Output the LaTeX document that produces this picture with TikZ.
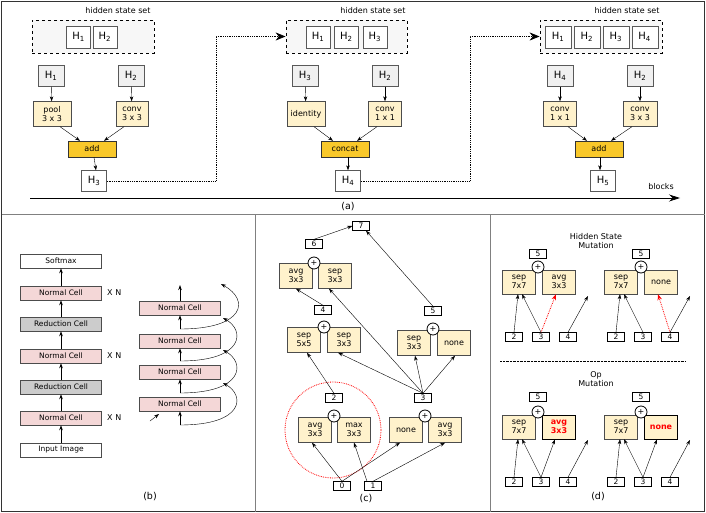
\documentclass[tikz,border=0pt]{standalone}
\usepackage{fontspec}
\setmainfont{DejaVu Sans}
\usetikzlibrary{arrows.meta,positioning}
\definecolor{opfill}{HTML}{FFF2CC}
\definecolor{addfill}{HTML}{F9C82A}
\definecolor{cellpink}{HTML}{F4D7D7}
\definecolor{redcell}{HTML}{CCCCCC}
\definecolor{hgrayfill}{HTML}{F0F0F0}
\tikzset{
  hset/.style={draw=gray!70!black,fill=white,minimum width=24pt,minimum height=22pt,inner sep=0pt,font=\fontsize{10}{11}\selectfont},
  hin/.style={hset,fill=hgrayfill,minimum width=26pt,minimum height=21pt},
  hout/.style={hset,minimum width=25pt,minimum height=21pt},
  opbox/.style={draw=gray!60!black,fill=opfill,minimum width=34pt,minimum height=25pt,inner sep=1pt,align=center,font=\fontsize{8}{9.5}\selectfont},
  combox/.style={draw=black!80,fill=addfill,minimum width=48pt,minimum height=16pt,inner sep=0pt,font=\fontsize{8}{9}\selectfont},
  setbox/.style={draw,dashed,thick,fill=gray!6,minimum height=33pt},
  cellbox/.style={draw=gray!60!black,fill=cellpink,minimum width=81pt,minimum height=14pt,inner sep=0pt,font=\fontsize{7.5}{8}\selectfont},
  redbox/.style={cellbox,fill=redcell},
  plainbox/.style={cellbox,fill=white},
  numbox/.style={draw,fill=white,minimum width=17pt,minimum height=9pt,inner sep=0pt,font=\fontsize{7.5}{7.5}\selectfont},
  plusc/.style={draw,thick,circle,fill=white,minimum size=12pt,inner sep=0pt,font=\fontsize{8}{8}\selectfont},
  lbl/.style={font=\fontsize{8}{9.5}\selectfont,align=center},
  arr/.style={-{Stealth[length=5pt,width=3.5pt]}},
  redarr/.style={-{Stealth[length=6pt,width=4.5pt]},red,densely dotted,thick}
}
\begin{document}
\begin{tikzpicture}[x=1pt,y=-1pt]
  \useasboundingbox (0,0) rectangle (706,513);
  \draw[thick,black!80] (1.5,1.5) rectangle (704.5,511.5);
  \draw[gray] (1.5,214) -- (704.5,214);
  \draw[gray] (255,214) -- (255,511.5);
  \draw[gray] (490,214) -- (490,511.5);

  % (a)
  \node[lbl] at (118,11) {hidden state set};
  \node[setbox,minimum width=122pt] (set1) at (93,36.5) {};
  \node[hset] (s1a) at (78.5,37) {H\textsubscript{1}};
  \node[hset,right=2pt of s1a] (s1b) {H\textsubscript{2}};
  \node[hin] (h1a) at (51,76) {H\textsubscript{1}};
  \node[hin] (h2a) at (131,76) {H\textsubscript{2}};
  \node[opbox,minimum width=38pt] (pool) at (52,114) {pool\\3 x 3};
  \node[opbox,minimum width=32pt] (conva) at (132,114) {conv\\3 x 3};
  \node[combox] (adda) at (92,149) {add};
  \node[hout] (h3w) at (94,181) {H\textsubscript{3}};
  \draw[arr] (h1a) -- (pool);
  \draw[arr] (h2a) -- (conva);
  \draw[arr] ([xshift=8pt]pool.south) -- ([xshift=-12pt]adda.north);
  \draw[arr] ([xshift=-8pt]conva.south) -- ([xshift=12pt]adda.north);
  \draw[arr] ([xshift=2pt]adda.south) -- ([xshift=2pt]h3w.north);

  \node[lbl] at (373,11) {hidden state set};
  \node[setbox,minimum width=121pt] (set2) at (346.5,36.5) {};
  \node[hset] (s2a) at (318,37) {H\textsubscript{1}};
  \node[hset,right=4pt of s2a] (s2b) {H\textsubscript{2}};
  \node[hset,right=4pt of s2b] (s2c) {H\textsubscript{3}};
  \node[hin] (h3a) at (305,76) {H\textsubscript{3}};
  \node[hin] (h2b) at (385,76) {H\textsubscript{2}};
  \node[opbox,minimum width=38pt] (ident) at (306,114) {identity};
  \node[opbox,minimum width=33pt] (convb) at (385,114) {conv\\1 x 1};
  \node[combox] (concat) at (345,149) {concat};
  \node[hout] (h4w) at (348,181) {H\textsubscript{4}};
  \draw[arr] (h3a) -- (ident);
  \draw[arr] (h2b) -- (convb);
  \draw[arr] ([xshift=8pt]ident.south) -- ([xshift=-12pt]concat.north);
  \draw[arr] ([xshift=-8pt]convb.south) -- ([xshift=12pt]concat.north);
  \draw[arr] ([xshift=3pt]concat.south) -- (h4w.north);

  \node[lbl] at (627,11) {hidden state set};
  \node[setbox,minimum width=122pt] (set3) at (601,36.5) {};
  \node[hset,minimum width=26pt] (s3a) at (558,37) {H\textsubscript{1}};
  \node[hset,minimum width=26pt,right=2.5pt of s3a] (s3b) {H\textsubscript{2}};
  \node[hset,minimum width=26pt,right=2.5pt of s3b] (s3c) {H\textsubscript{3}};
  \node[hset,minimum width=26pt,right=2.5pt of s3c] (s3d) {H\textsubscript{4}};
  \node[hin] (h4a) at (560,76) {H\textsubscript{4}};
  \node[hin] (h2c) at (640,76) {H\textsubscript{2}};
  \node[opbox,minimum width=33pt] (convc) at (560,114) {conv\\1 x 1};
  \node[opbox,minimum width=34pt] (convd) at (640,114) {conv\\3 x 3};
  \node[combox] (addb) at (599,149) {add};
  \node[hout] (h5w) at (603,181) {H\textsubscript{5}};
  \draw[arr] (h4a) -- (convc);
  \draw[arr] (h2c) -- (convd);
  \draw[arr] ([xshift=8pt]convc.south) -- ([xshift=-12pt]addb.north);
  \draw[arr] ([xshift=-8pt]convd.south) -- ([xshift=12pt]addb.north);
  \draw[arr] ([xshift=1pt]addb.south) -- ([xshift=-3pt]h5w.north);

  \coordinate (turn1) at (216,36.5);
  \coordinate (turn2) at (470,36.5);
  \draw[densely dotted,thick,-{Stealth[length=10pt,width=8pt]}] (h3w.east) -| (turn1) -- (set2.west);
  \draw[densely dotted,thick,-{Stealth[length=10pt,width=8pt]}] (h4w.east) -| (turn2) -- (set3.west);

  \coordinate (axs) at (30,198);
  \coordinate (axe) at (680,198);
  \draw[thick,-{Stealth[length=11pt,width=7pt]}] (axs) -- (axe);
  \node[lbl] at (661,187) {blocks};
  \node[font=\fontsize{9.5}{10}\selectfont] at (348,207) {(a)};

  % (b)
  \node[plainbox] (soft) at (61,261) {Softmax};
  \node[cellbox] (nc3) at (61,293) {Normal Cell};
  \node[redbox] (rc2) at (61,324) {Reduction Cell};
  \node[cellbox] (nc2) at (61,356) {Normal Cell};
  \node[redbox] (rc1) at (61,387) {Reduction Cell};
  \node[cellbox] (nc1) at (61,418) {Normal Cell};
  \node[plainbox] (inp) at (61,450) {Input Image};
  \draw[arr,thick] (inp) -- (nc1);
  \draw[arr,thick] (nc1) -- (rc1);
  \draw[arr,thick] (rc1) -- (nc2);
  \draw[arr,thick] (nc2) -- (rc2);
  \draw[arr,thick] (rc2) -- (nc3);
  \draw[arr,thick] (nc3) -- (soft);
  \node[lbl,right=2pt of nc3] {X N};
  \node[lbl,right=2pt of nc2] {X N};
  \node[lbl,right=2pt of nc1] {X N};

  \node[cellbox] (rn4) at (180,308) {Normal Cell};
  \node[cellbox] (rn3) at (180,341) {Normal Cell};
  \node[cellbox] (rn2) at (180,372) {Normal Cell};
  \node[cellbox] (rn1) at (180,404) {Normal Cell};
  \coordinate (st0) at (180,425);
  \coordinate (st1) at (180,393);
  \coordinate (st2) at (180,361);
  \coordinate (st3) at (180,329);
  \coordinate (top) at (180,285);
  \draw[arr,thick] (st0) -- (rn1);
  \draw[arr,thick] (st1) -- (rn2);
  \draw[arr,thick] (st2) -- (rn3);
  \draw[arr,thick] (st3) -- (rn4);
  \draw[arr,thick] (rn4) -- (top);
  \coordinate (sk0) at (223,383);
  \coordinate (sk1) at (223,350);
  \coordinate (sk2) at (223,318);
  \coordinate (sk3) at (221,284);
  \draw[arr] (st0) .. controls (245,425) and (245,395) .. (sk0);
  \draw[arr] (st1) .. controls (245,393) and (245,362) .. (sk1);
  \draw[arr] (st2) .. controls (245,361) and (245,330) .. (sk2);
  \draw[arr] (st3) .. controls (245,329) and (250,300) .. (sk3);
  \coordinate (inl) at (150,421);
  \coordinate (inr) at (159,414);
  \draw[arr] (inl) -- (inr);
  \node[font=\fontsize{9.5}{10}\selectfont] at (150,497) {(b)};

  % (c)
  \node[numbox] (c7) at (361,226) {7};
  \node[numbox] (c6) at (314,244) {6};
  \node[opbox,minimum width=33pt] (ca6) at (296,276) {avg\\3x3};
  \node[opbox,minimum width=33pt] (cb6) at (335,276) {sep\\3x3};
  \node[plusc] at (314,263) {+};
  \node[numbox] (c4) at (323,310) {4};
  \node[numbox] (c5) at (433,311) {5};
  \node[opbox,minimum width=33pt] (ca4) at (304,340) {sep\\5x5};
  \node[opbox,minimum width=33pt] (cb4) at (344,340) {sep\\3x3};
  \node[plusc] at (324,327) {+};
  \node[opbox,minimum width=33pt] (ca5) at (414,343) {sep\\3x3};
  \node[opbox,minimum width=33pt] (cb5) at (454,343) {none};
  \node[plusc] at (433,329) {+};
  \node[numbox] (c2) at (334,398) {2};
  \node[numbox] (c3) at (423,398) {3};
  \draw[red,densely dotted,thick] (333,430) circle (48);
  \node[opbox,minimum width=33pt] (ca2) at (315,430) {avg\\3x3};
  \node[opbox,minimum width=33pt] (cb2) at (354,430) {max\\3x3};
  \node[plusc] at (334,416) {+};
  \node[opbox,minimum width=33pt] (ca3) at (406,430) {none};
  \node[opbox,minimum width=33pt] (cb3) at (445,430) {avg\\3x3};
  \node[plusc] at (425,416) {+};
  \node[numbox] (c0) at (342,486) {0};
  \node[numbox] (c1) at (373,486) {1};
  \draw[arr] (c0.north) -- ([xshift=-3pt]ca2.south);
  \draw[arr] ([xshift=-6pt]c1.north) -- (cb2.south);
  \draw[arr] (c0.north) -- ([xshift=-6pt]ca3.south);
  \draw[arr] (c1.north) -- (cb3.south);
  \draw[arr] (c2.north) -- ([xshift=3pt]ca4.south);
  \draw[arr] (c3.north) -- ([xshift=-6pt]cb4.south);
  \draw[arr] (c3.north) -- ([xshift=-6pt]cb6.south);
  \draw[arr] (c3.north) -- ([xshift=1pt]ca5.south);
  \draw[arr] (c3.north) -- ([xshift=1pt]cb5.south);
  \draw[arr] (c4.north) -- (ca6.south);
  \draw[arr] (c5.north) -- ([xshift=5pt]c7.south);
  \draw[arr] (c6.north) -- (c7.west);
  \node[font=\fontsize{9.5}{10}\selectfont] at (366,499) {(c)};

  % (d)
  \node[lbl] at (596,241) {Hidden State\\Mutation};
  \node[numbox] (t5a) at (538,254) {5};
  \node[opbox,minimum width=33pt,minimum height=24pt] (tsa) at (519,282) {sep\\7x7};
  \node[opbox,minimum width=33pt,minimum height=24pt] (toa) at (559,282) {avg\\3x3};
  \node[plusc] at (538,267) {+};
  \node[numbox] (t2a) at (514,337) {2};
  \node[numbox] (t3a) at (541,337) {3};
  \node[numbox] (t4a) at (568,337) {4};
  \coordinate (tfa) at (588,296);
  \draw[arr] (t2a.north) -- ([xshift=-1pt]tsa.south);
  \draw[arr] (t3a.north) -- ([xshift=3pt]tsa.south);
  \draw[redarr] (t3a.north) -- ([xshift=-3pt]toa.south);
  \draw[arr] (t4a.north) -- (tfa);

  \node[numbox] (t5b) at (641,254) {5};
  \node[opbox,minimum width=33pt,minimum height=24pt] (tsb) at (621,282) {sep\\7x7};
  \node[opbox,minimum width=33pt,minimum height=24pt] (tob) at (661,282) {none};
  \node[plusc] at (641,267) {+};
  \node[numbox] (t2b) at (616,337) {2};
  \node[numbox] (t3b) at (643,337) {3};
  \node[numbox] (t4b) at (670,337) {4};
  \coordinate (tfb) at (690,296);
  \draw[arr] (t2b.north) -- ([xshift=-1pt]tsb.south);
  \draw[arr] (t3b.north) -- ([xshift=3pt]tsb.south);
  \draw[redarr] (t4b.north) -- ([xshift=-3pt]tob.south);
  \draw[arr] (t4b.north) -- (tfb);

  \coordinate (dl) at (500,361);
  \coordinate (dr) at (685,361);
  \draw[densely dotted] (dl) -- (dr);
  \node[lbl] at (596,379) {Op\\Mutation};

  \node[numbox] (b5a) at (538,397) {5};
  \node[opbox,minimum width=33pt,minimum height=24pt] (bsa) at (519,427) {sep\\7x7};
  \node[opbox,minimum width=33pt,minimum height=24pt,thick,draw=black,text=red,font=\fontsize{8}{9.5}\selectfont\bfseries] (boa) at (559,427) {avg\\3x3};
  \node[plusc] at (538,412) {+};
  \node[numbox] (b2a) at (514,482) {2};
  \node[numbox] (b3a) at (541,482) {3};
  \node[numbox] (b4a) at (568,482) {4};
  \coordinate (bfa) at (588,440);
  \draw[arr] (b2a.north) -- ([xshift=-1pt]bsa.south);
  \draw[arr] (b3a.north) -- ([xshift=3pt]bsa.south);
  \draw[arr] (b3a.north) -- ([xshift=-4pt]boa.south);
  \draw[arr] (b4a.north) -- (bfa);

  \node[numbox] (b5b) at (641,397) {5};
  \node[opbox,minimum width=33pt,minimum height=24pt] (bsb) at (621,427) {sep\\7x7};
  \node[opbox,minimum width=33pt,minimum height=24pt,thick,draw=black,text=red,font=\fontsize{8}{9.5}\selectfont\bfseries] (bob) at (661,427) {none};
  \node[plusc] at (641,412) {+};
  \node[numbox] (b2b) at (616,482) {2};
  \node[numbox] (b3b) at (643,482) {3};
  \node[numbox] (b4b) at (670,482) {4};
  \coordinate (bfb) at (690,440);
  \draw[arr] (b2b.north) -- ([xshift=-1pt]bsb.south);
  \draw[arr] (b3b.north) -- ([xshift=3pt]bsb.south);
  \draw[arr] (b3b.north) -- ([xshift=-4pt]bob.south);
  \draw[arr] (b4b.north) -- (bfb);
  \node[font=\fontsize{9.5}{10}\selectfont] at (598,497) {(d)};
\end{tikzpicture}
\end{document}
